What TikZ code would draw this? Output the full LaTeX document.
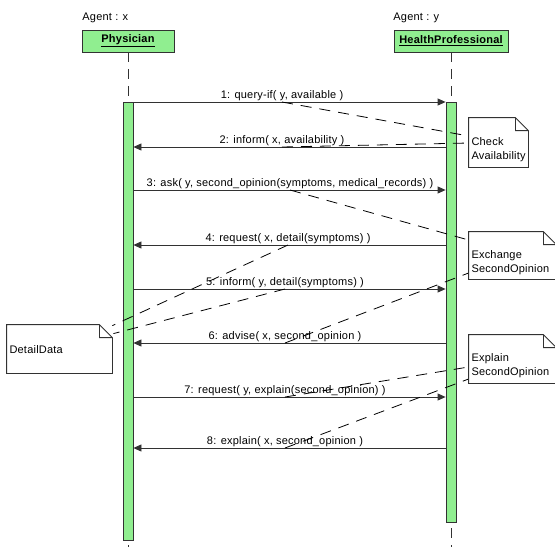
\documentclass[tikz,border=0pt]{standalone}
\usepackage{fontspec}
\setmainfont{Liberation Sans}[LetterSpace=2.0]
\usetikzlibrary{arrows.meta}
\definecolor{umlgreen}{RGB}{144,238,144}
\definecolor{pen}{RGB}{50,50,50}

\begin{document}
\begin{tikzpicture}[x=1pt,y=-1pt,font=\fontsize{11}{13}\selectfont,line width=0.8pt,
  actor/.style={draw=pen,fill=umlgreen,minimum height=22pt,inner sep=0pt,font=\fontsize{11}{13}\selectfont\bfseries},
  bar/.style={draw=pen,fill=umlgreen,minimum width=10pt,inner sep=0pt},
  lifeline/.style={pen,dash pattern=on 10pt off 7pt},
  msg/.style={pen,-{Triangle[length=8pt,width=7pt]}},
  msgtext/.style={anchor=south,inner sep=0.5pt},
  note/.style={inner xsep=2.5pt,inner ysep=0pt,align=left,font=\fontsize{11}{14}\selectfont},
  notepen/.style={draw=pen},
  anchorline/.style={black,dash pattern=on 11pt off 8pt}]
\useasboundingbox (0,0) rectangle (555,547);
\node[inner sep=0pt,anchor=west] (agx) at (82,18) {Agent : x};
\node[inner sep=0pt,anchor=west] (agy) at (393,18) {Agent : y};
\node[actor,minimum width=92pt] (phys) at (128,41) {\underline{Physician}};
\node[actor,minimum width=114pt] (hp) at (451,41) {\underline{HealthProfessional}};
\coordinate (endx) at (128,547);
\coordinate (endy) at (451,547);
\foreach \from/\to in {phys/endx,hp/endy}
\draw[lifeline] (\from) -- (\to);
\node[bar,minimum height=438pt] (actx) at (128,321) {};
\node[bar,minimum height=420pt] (acty) at (451,312) {};
%-------------
\foreach \i/\y/\x/\src/\dst/\txt in {
1/102/282/actx.east/acty.west/{1: query-if( y, available )},
2/147/282/acty.west/actx.east/{2: inform( x, availability )},
3/190/290/actx.east/acty.west/{3: ask( y, second\_opinion(symptoms, medical\_records) )},
4/245/288/acty.west/actx.east/{4: request( x, detail(symptoms) )},
5/289/285/actx.east/acty.west/{5: inform( y, detail(symptoms) )},
6/343/285/acty.west/actx.east/{6: advise( x, second\_opinion )},
7/397/285/actx.east/acty.west/{7: request( y, explain(second\_opinion) )},
8/448/285/acty.west/actx.east/{8: explain( x, second\_opinion )}}
{\draw[msg] (\src |- 0,\y) -- (\dst |- 0,\y);
\node[msgtext] (m\i) at (\x,\y) {\txt};}
%-------------
\node[note,minimum width=59pt,minimum height=35pt,text width=54pt] (check) at (498.5,149.5) {Check\\Availability};
\node[note,minimum width=87pt,minimum height=33pt,text width=82pt] (exch) at (512.5,262.5) {Exchange\\SecondOpinion};
\node[note,minimum width=87pt,minimum height=34pt,text width=82pt] (expl) at (512.5,366) {Explain\\SecondOpinion};
\node[note,minimum width=105pt,minimum height=34pt,text width=100pt,text depth=12pt] (detail) at (59.5,356) {DetailData};
\draw[anchorline] (m1.south) -- ([yshift=13.5pt]check.west);
\draw[anchorline] (m2.south) -- ([yshift=6.5pt]check.west);
\draw[anchorline] (m3.south) -- ([yshift=22.5pt]exch.west);
\draw[anchorline] (m6.south) -- ([yshift=-10.5pt]exch.west);
\draw[anchorline] (m7.south) -- ([yshift=-1pt]expl.west);
\draw[anchorline] (m8.south) -- ([yshift=-13pt]expl.west);
\draw[anchorline] (m4.south) -- ([yshift=13pt]detail.north east);
\draw[anchorline] (m5.south) -- ([xshift=1pt,yshift=5pt]detail.north east);
\foreach \n in {check,exch,expl,detail}
\draw[notepen] (\n.south west) -- ([yshift=14pt]\n.north west) -- ([xshift=-13pt,yshift=14pt]\n.north east) -- ([yshift=1pt]\n.north east) -- (\n.south east) -- cycle ([xshift=-13pt,yshift=14pt]\n.north east) |- ([yshift=1pt]\n.north east);
\end{tikzpicture}
\end{document}
